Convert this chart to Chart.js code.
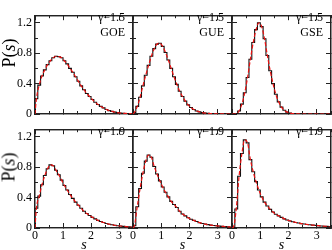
<!DOCTYPE html>
<html>
<head>
<meta charset="utf-8">
<script src="https://cdn.jsdelivr.net/npm/chart.js@4.4.1/dist/chart.umd.min.js"></script>
<style>
  body { margin: 0; background: #fff; }
  #fig { position: relative; width: 332px; height: 250px; overflow: hidden; font-family: "Liberation Serif", serif; }
  #fig canvas { position: absolute; z-index: 1; }
  .note { position: absolute; z-index: 5; font-size: 12px; line-height: 15px; text-align: right; white-space: nowrap; color: #000; }
  .ylab { position: absolute; z-index: 5; font-size: 18px; white-space: nowrap; transform: translate(-50%, -50%) rotate(-90deg); color: #000; }
</style>
</head>
<body>
<div id="fig"></div>
<script>
// bin centres of the histograms (s)
const sCenters = [0.05, 0.15, 0.25, 0.35, 0.45, 0.55, 0.65, 0.75, 0.85, 0.95,
  1.05, 1.15, 1.25, 1.35, 1.45, 1.55, 1.65, 1.75, 1.85, 1.95,
  2.05, 2.15, 2.25, 2.35, 2.45, 2.55, 2.65, 2.75, 2.85, 2.95,
  3.05, 3.15, 3.25, 3.35, 3.45];

// gamma = 1.5
const goe15 = [0.20, 0.38, 0.50, 0.58, 0.65, 0.70, 0.74, 0.76, 0.755, 0.74,
  0.70, 0.66, 0.60, 0.55, 0.49, 0.43, 0.37, 0.32, 0.27, 0.23,
  0.19, 0.155, 0.125, 0.10, 0.08, 0.06, 0.045, 0.035, 0.025, 0.018,
  0.013, 0.01, 0.007, 0.005, 0.004];
const gue15 = [0.02, 0.10, 0.22, 0.37, 0.51, 0.64, 0.76, 0.86, 0.92, 0.93,
  0.89, 0.81, 0.71, 0.60, 0.49, 0.39, 0.30, 0.23, 0.17, 0.12,
  0.085, 0.06, 0.04, 0.028, 0.018, 0.012, 0.008, 0.005, 0.003, 0.002,
  0.001, 0.001, 0, 0, 0];
const gse15 = [0, 0.005, 0.04, 0.13, 0.28, 0.48, 0.72, 0.94, 1.11, 1.20,
  1.15, 0.99, 0.77, 0.57, 0.40, 0.26, 0.16, 0.09, 0.05, 0.025,
  0.012, 0.006, 0.003, 0.001, 0, 0, 0, 0, 0, 0,
  0, 0, 0, 0, 0];

// gamma = 1.9
const goe19 = [0.26, 0.42, 0.57, 0.69, 0.78, 0.83, 0.82, 0.76, 0.70, 0.63,
  0.56, 0.50, 0.44, 0.39, 0.34, 0.30, 0.26, 0.22, 0.19, 0.165,
  0.14, 0.12, 0.10, 0.085, 0.072, 0.06, 0.05, 0.043, 0.036, 0.03,
  0.026, 0.022, 0.018, 0.015, 0.013];
const gue19 = [0.03, 0.28, 0.52, 0.72, 0.88, 0.96, 0.93, 0.81, 0.71, 0.62,
  0.54, 0.47, 0.41, 0.35, 0.31, 0.27, 0.22, 0.185, 0.16, 0.135,
  0.115, 0.10, 0.085, 0.07, 0.06, 0.052, 0.045, 0.038, 0.033, 0.029,
  0.025, 0.022, 0.019, 0.016, 0.014];
const gse19 = [0.01, 0.25, 0.68, 0.98, 1.16, 1.12, 0.90, 0.74, 0.61, 0.50,
  0.41, 0.34, 0.29, 0.245, 0.21, 0.18, 0.16, 0.14, 0.12, 0.105,
  0.093, 0.082, 0.073, 0.065, 0.058, 0.052, 0.047, 0.042, 0.038, 0.034,
  0.03, 0.027, 0.024, 0.021, 0.019];

const yTickLabels = ["0", "0.4", "0.8", "1.2"];
const xTickLabels = ["0", "1", "2", "3"];
const ensembles = ["GOE", "GUE", "GSE"];
const gammas = ["γ=1.5", "γ=1.9"];

const panels = [
  { data: goe15, row: 0, col: 0 },
  { data: gue15, row: 0, col: 1 },
  { data: gse15, row: 0, col: 2 },
  { data: goe19, row: 1, col: 0 },
  { data: gue19, row: 1, col: 1 },
  { data: gse19, row: 1, col: 2 },
];

const colLeft = [35, 133, 232];
const colWidth = [98, 99, 99];
const rowTop = [0, 114];
const plotH = 114;
const padL = 35, padB = 22;
const fig = document.getElementById("fig");
const clear = "rgba(0,0,0,0)";
const axisColor = "#222";
const tickFont = { family: "Liberation Serif", size: 12 };

function fmt(list, v) {
  for (const t of list) {
    if (Math.abs(parseFloat(t) - v) < 1e-6) return t;
  }
  return "";
}

// one axis: major or minor tick marks pointing inward
function axis(pos, isX, step, len, weight, extra) {
  const a = {
    type: "linear", position: pos,
    min: 0, max: isX ? 3.5 : 1.3,
    weight: weight,
    grid: { drawOnChartArea: false, tickLength: -len, color: axisColor, lineWidth: 1 },
    border: { color: axisColor, width: 1.3 },
    ticks: { stepSize: step, includeBounds: false, autoSkip: false, display: false },
    afterFit: (sc) => { if (isX) sc.height = 0; else sc.width = 0; },
  };
  return Object.assign(a, extra || {});
}

panels.forEach((p) => {
  const w = colWidth[p.col];
  const cv = document.createElement("canvas");
  cv.width = padL + w + 1;
  cv.height = plotH + padB;
  cv.style.left = (colLeft[p.col] - padL) + "px";
  cv.style.top = rowTop[p.row] + "px";
  fig.appendChild(cv);

  const showY = p.col === 0;
  const showX = p.row === 1;

  const hist = [{ x: 0, y: 0 }, { x: 0, y: p.data[0] }];
  sCenters.forEach((s, i) => hist.push({ x: s, y: p.data[i] }));
  hist.push({ x: 3.5, y: p.data[p.data.length - 1] });

  const curve = [{ x: 0, y: 0 }];
  sCenters.forEach((s, i) => curve.push({ x: s, y: p.data[i] }));

  new Chart(cv, {
    type: "line",
    data: {
      datasets: [
        { data: curve, xAxisID: "x", yAxisID: "y", borderColor: "#ee1111", borderWidth: 1.2,
          borderDash: [4, 2], pointRadius: 0, cubicInterpolationMode: "monotone", fill: false },
        { data: hist, xAxisID: "x", yAxisID: "y", borderColor: "#111", borderWidth: 1.1,
          stepped: "middle", pointRadius: 0, fill: false },
      ],
    },
    options: {
      responsive: false,
      animation: false,
      events: [],
      layout: { padding: { left: 0, right: 1, top: 0, bottom: 0 } },
      plugins: { legend: { display: false }, tooltip: { enabled: false } },
      scales: {
        x: axis("bottom", true, 1, 5, 1, {
          ticks: { stepSize: 1, includeBounds: false, padding: 6, maxRotation: 0, autoSkip: false,
            color: showX ? "#000" : clear, font: tickFont,
            callback: (v) => fmt(xTickLabels, v) },
          title: { display: showX, text: "s", color: "#000", padding: 0,
            font: { family: "Liberation Serif", size: 14, style: "italic", lineHeight: 0.6 } },
          afterFit: (sc) => { sc.height = padB; },
        }),
        xm: axis("bottom", true, 0.5, 3, 0),
        xt: axis("top", true, 1, 5, 1),
        xtm: axis("top", true, 0.5, 3, 0),
        y: axis("left", false, 0.4, 5, 1, {
          ticks: { stepSize: 0.4, padding: 8, includeBounds: false, autoSkip: false,
            color: showY ? "#000" : clear, font: tickFont,
            callback: (v) => fmt(yTickLabels, v) },
          afterFit: (sc) => { sc.width = padL; },
        }),
        ym: axis("left", false, 0.2, 3, 0),
        yr: axis("right", false, 0.4, 5, 1),
        yrm: axis("right", false, 0.2, 3, 0),
      },
    },
  });
});

// annotations in the upper right corner of each panel
panels.forEach((p) => {
  const g = document.createElement("div");
  g.className = "note";
  g.style.right = (332 - (colLeft[p.col] + colWidth[p.col] - 8)) + "px";
  g.style.top = (rowTop[p.row] + 10) + "px";
  g.innerHTML = gammas[p.row] + (p.row === 0 ? "<br>" + ensembles[p.col] : "");
  fig.appendChild(g);
});

// P(s) axis labels
[0, 1].forEach((r) => {
  const d = document.createElement("div");
  d.className = "ylab";
  d.style.left = "9px";
  d.style.top = (rowTop[r] + 53) + "px";
  d.innerHTML = "P(<i>s</i>)";
  fig.appendChild(d);
});
</script>
</body>
</html>
